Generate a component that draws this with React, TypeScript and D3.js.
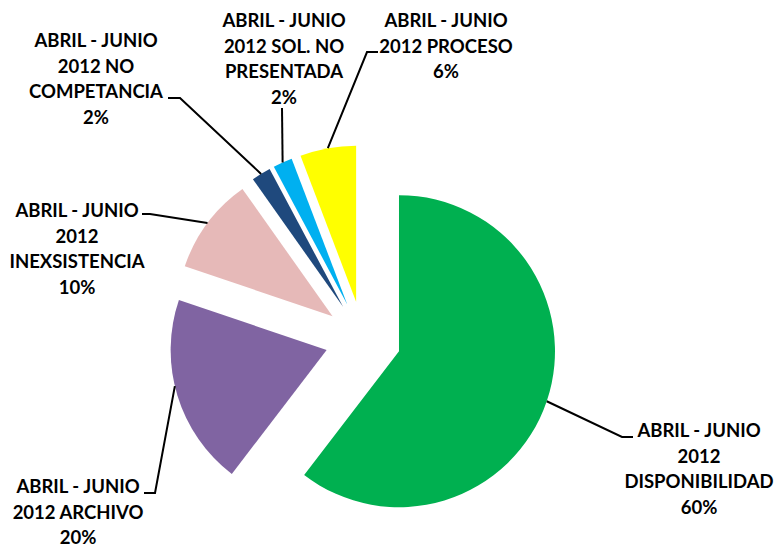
import * as d3 from "d3";

const categories = [
  "ABRIL - JUNIO 2012 DISPONIBILIDAD",
  "ABRIL - JUNIO 2012 ARCHIVO",
  "ABRIL - JUNIO 2012 INEXSISTENCIA",
  "ABRIL - JUNIO 2012 NO COMPETANCIA",
  "ABRIL - JUNIO 2012 SOL. NO PRESENTADA",
  "ABRIL - JUNIO 2012 PROCESO",
];
const values = [60.4, 19.8, 10.0, 2.0, 2.0, 5.8];
const colors = ["#00B050", "#8064A2", "#E6B9B8", "#1F497D", "#00B0F0", "#FFFF00"];

// how each label wraps in the original
const labelLines = [
  ["ABRIL - JUNIO", "2012", "DISPONIBILIDAD"],
  ["ABRIL - JUNIO", "2012 ARCHIVO"],
  ["ABRIL - JUNIO", "2012", "INEXSISTENCIA"],
  ["ABRIL - JUNIO", "2012 NO", "COMPETANCIA"],
  ["ABRIL - JUNIO", "2012 SOL. NO", "PRESENTADA"],
  ["ABRIL - JUNIO", "2012 PROCESO"],
];

// label placement: text centre, first baseline, leader elbow and end,
// and where along the slice's arc the leader attaches (0..1)
const labelPos = [
  { cx: 699, y: 437, ex: 622, ey: 437, tx: 633, at: 0.5 },
  { cx: 78, y: 493, ex: 155, ey: 493, tx: 144, at: 0.55 },
  { cx: 77, y: 217, ex: 150, ey: 214, tx: 142, at: 0.5 },
  { cx: 96, y: 47, ex: 180, ey: 98, tx: 168, at: 0.5 },
  { cx: 284, y: 27, ex: 282, ey: 108, tx: 282, at: 0.5 },
  { cx: 446, y: 27, ex: 367, ey: 52, tx: 378, at: 0.5 },
];

const width = 775;
const height = 548;
const cx = 363;
const cy = 339;
const radius = 156;
const explode = 38;
const lineH = 25.5;

export default function App() {
  const pie = d3
    .pie<number>()
    .sort(null)
    .startAngle(0)
    .endAngle(2 * Math.PI)
    .value((d) => d);
  const arcs = pie(values);
  const arc = d3.arc<d3.PieArcDatum<number>>().innerRadius(0).outerRadius(radius);
  const total = d3.sum(values);
  const pct = d3.format(".0%");

  return (
    <svg
      width={width}
      height={height}
      style={{ position: "absolute", left: 0, top: 0, background: "#fff" }}
      fontFamily="Lato, 'Noto Sans', sans-serif"
      fontWeight="bold"
      fontSize={18.5}
    >
      {arcs.map((a, i) => {
        const p = labelPos[i];
        const mid = (a.startAngle + a.endAngle) / 2;
        const ox = cx + explode * Math.sin(mid);
        const oy = cy - explode * Math.cos(mid);
        const att = a.startAngle + (a.endAngle - a.startAngle) * p.at;
        const px = ox + radius * Math.sin(att);
        const py = oy - radius * Math.cos(att);
        const lines = [...labelLines[i], pct(values[i] / total)];
        return (
          <g key={categories[i]}>
            <path d={arc(a) || ""} transform={`translate(${ox},${oy})`} fill={colors[i]} />
            <polyline
              points={`${px},${py} ${p.ex},${p.ey} ${p.tx},${p.ey}`}
              fill="none"
              stroke="#000"
              strokeWidth={2}
            />
            <text textAnchor="middle" fill="#000">
              {lines.map((t, j) => (
                <tspan key={j} x={p.cx} y={p.y + j * lineH}>
                  {t}
                </tspan>
              ))}
            </text>
          </g>
        );
      })}
    </svg>
  );
}
